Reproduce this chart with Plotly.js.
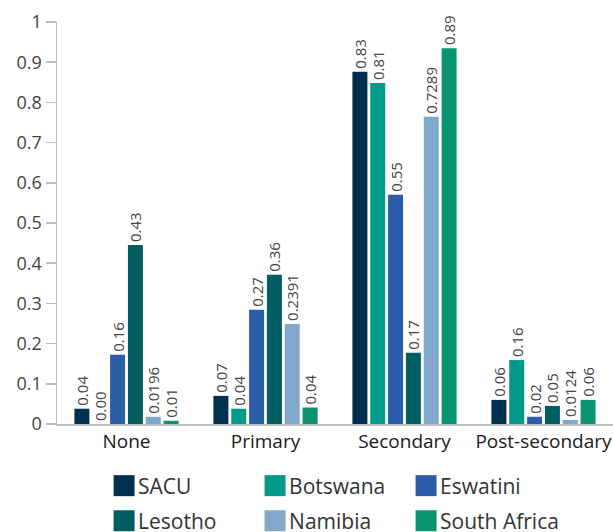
<!DOCTYPE html>
<html>
<head>
<meta charset="utf-8">
<script src="https://cdn.plot.ly/plotly-3.0.1.min.js"></script>
<style>html,body{margin:0;padding:0;background:#fff;}#chart{width:613px;height:532px;}</style>
</head>
<body>
<div id="chart"></div>
<script>
var categories = ["None", "Primary", "Secondary", "Post-secondary"];
var seriesNames = ["SACU", "Botswana", "Eswatini", "Lesotho", "Namibia", "South Africa"];

var sacuValues = [0.038, 0.070, 0.876, 0.060];
var botswanaValues = [0.000, 0.038, 0.848, 0.159];
var eswatiniValues = [0.172, 0.284, 0.570, 0.018];
var lesothoValues = [0.445, 0.371, 0.177, 0.045];
var namibiaValues = [0.018, 0.249, 0.764, 0.010];
var southAfricaValues = [0.008, 0.041, 0.935, 0.060];

var sacuLabels = ["0.04", "0.07", "0.83", "0.06"];
var botswanaLabels = ["0.00", "0.04", "0.81", "0.16"];
var eswatiniLabels = ["0.16", "0.27", "0.55", "0.02"];
var lesothoLabels = ["0.43", "0.36", "0.17", "0.05"];
var namibiaLabels = ["0.0196", "0.2391", "0.7289", "0.0124"];
var southAfricaLabels = ["0.01", "0.04", "0.89", "0.06"];

var yTickValues = [0, 0.1, 0.2, 0.3, 0.4, 0.5, 0.6, 0.7, 0.8, 0.9, 1];
var yTickLabels = ["0", "0.1", "0.2", "0.3", "0.4", "0.5", "0.6", "0.7", "0.8", "0.9", "1"];

var colors = ["#00304e", "#00998a", "#2b5ca8", "#015e63", "#7fa8cb", "#0a9371"];
var allValues = [sacuValues, botswanaValues, eswatiniValues, lesothoValues, namibiaValues, southAfricaValues];
var allLabels = [sacuLabels, botswanaLabels, eswatiniLabels, lesothoLabels, namibiaLabels, southAfricaLabels];

var FONT = "'Open Sans', 'Noto Sans', sans-serif";

var traces = seriesNames.map(function (name, i) {
  return {
    type: "bar",
    name: name,
    legend: i < 3 ? "legend" : "legend2",
    x: categories,
    y: allValues[i],
    text: allLabels[i],
    textposition: "outside",
    textangle: -90,
    constraintext: "none",
    cliponaxis: false,
    textfont: {family: FONT, size: 15, color: "#444"},
    marker: {color: colors[i]},
    hoverinfo: "x+y+name"
  };
});

function legendBox(yPos) {
  return {
    orientation: "h",
    xref: "container",
    yref: "container",
    x: 0.16,
    xanchor: "left",
    y: yPos,
    yanchor: "top",
    entrywidth: 106,
    entrywidthmode: "pixels",
    traceorder: "normal",
    font: {family: FONT, size: 21, color: "#333"},
    bgcolor: "rgba(0,0,0,0)"
  };
}

var layout = {
  width: 613,
  height: 532,
  margin: {l: 57, r: 0, t: 22, b: 108},
  paper_bgcolor: "#fff",
  plot_bgcolor: "#fff",
  font: {family: FONT, color: "#333"},
  barmode: "group",
  bargap: 0.23,
  bargroupgap: 0.16,
  showlegend: true,
  legend: legendBox(0.125),
  legend2: legendBox(0.059),
  xaxis: {
    type: "category",
    showline: true,
    linecolor: "#bdbdbd",
    linewidth: 1.5,
    ticks: "",
    showgrid: false,
    tickfont: {family: FONT, size: 19, color: "#1a1a1a"},
    zeroline: false
  },
  yaxis: {
    range: [0, 1],
    tickvals: yTickValues,
    ticktext: yTickLabels,
    showline: true,
    linecolor: "#bdbdbd",
    linewidth: 1.5,
    ticks: "outside",
    ticklen: 10,
    tickcolor: "#bdbdbd",
    tickwidth: 1.5,
    showgrid: false,
    zeroline: false,
    tickfont: {family: FONT, size: 18, color: "#444"}
  }
};

Plotly.newPlot("chart", traces, layout, {displayModeBar: false, staticPlot: true}).then(function (gd) {
  // enlarge legend swatches to match the reference's larger squares
  gd.querySelectorAll(".legendpoints path").forEach(function (p) {
    p.setAttribute("d", "M16.5,10.5H-4.5V-10.5H16.5Z");
  });
  // let the last legend label extend past the fixed entry width
  gd.querySelectorAll(".scrollbox").forEach(function (s) {
    s.removeAttribute("clip-path");
  });
});
</script>
</body>
</html>
